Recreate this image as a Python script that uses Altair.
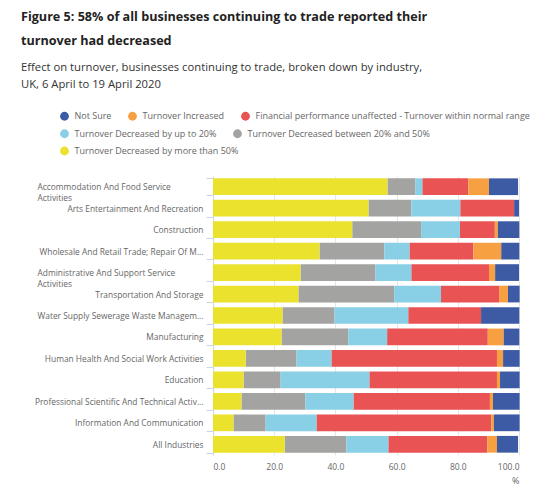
import altair as alt
import pandas as pd

industries = [
    "Accommodation And Food Service|Activities",
    "Arts Entertainment And Recreation",
    "Construction",
    "Wholesale And Retail Trade; Repair Of M...",
    "Administrative And Support Service|Activities",
    "Transportation And Storage",
    "Water Supply Sewerage Waste Managem...",
    "Manufacturing",
    "Human Health And Social Work Activities",
    "Education",
    "Professional Scientific And Technical Activ...",
    "Information And Communication",
    "All Industries",
]

categories = [
    "Turnover Decreased by more than 50%",
    "Turnover Decreased between 20% and 50%",
    "Turnover Decreased by up to 20%",
    "Financial performance unaffected - Turnover within normal range",
    "Turnover Increased",
    "Not Sure",
]
colors = ["#ebe22e", "#a3a3a2", "#89cfe5", "#e95354", "#f7a041", "#3d5aa4"]

dec_more_50 = [57.0, 50.8, 45.5, 34.8, 28.6, 27.9, 22.7, 22.4, 10.7, 10.0, 9.3, 6.7, 23.4]
dec_20_50 = [9.1, 14.0, 22.5, 21.2, 24.5, 31.3, 17.0, 21.8, 16.6, 12.1, 20.9, 10.5, 20.2]
dec_up_20 = [2.3, 16.0, 12.7, 8.2, 11.7, 15.3, 24.1, 12.7, 11.4, 29.0, 15.7, 16.6, 13.7]
unaffected = [15.0, 17.6, 11.4, 20.9, 25.4, 19.0, 23.8, 32.9, 54.1, 41.7, 44.6, 57.1, 32.3]
increased = [6.8, 0.0, 1.0, 9.1, 2.0, 2.9, 0.0, 5.2, 2.0, 1.0, 1.0, 0.9, 3.2]
not_sure = [9.5, 1.6, 7.0, 5.9, 7.8, 3.8, 12.5, 5.1, 5.4, 6.4, 8.7, 8.4, 6.9]

series = [dec_more_50, dec_20_50, dec_up_20, unaffected, increased, not_sure]

rows = []
for ci, (cat, vals) in enumerate(zip(categories, series)):
    for ind, v in zip(industries, vals):
        rows.append({"industry": ind, "category": cat, "value": v, "order": ci})
df = pd.DataFrame(rows)

legend_rows = [
    ["Not Sure", "Turnover Increased",
     "Financial performance unaffected - Turnover within normal range"],
    ["Turnover Decreased by up to 20%", "Turnover Decreased between 20% and 50%"],
    ["Turnover Decreased by more than 50%"],
]
legend_y = [-65.5, -48, -30.5]

FONT = "Open Sans"
wrapped = "isString(datum.value) && indexof(datum.value, '|') >= 0"

y_axis = alt.Axis(
    title=None,
    labelExpr="isString(datum.label) ? split(datum.label, '|') : datum.label",
    labelFont=FONT,
    labelFontSize=8.4,
    labelColor="#666666",
    labelLimit=400,
    labelLineHeight=11,
    labelAlign={"condition": {"test": wrapped, "value": "left"}, "value": "right"},
    labelPadding={"condition": {"test": wrapped, "value": 169}, "value": 3},
    domainColor="#ccd6eb",
    tickColor="#ccd6eb",
    tickSize=7,
    tickBand="extent",
    grid=False,
)

x_axis = alt.Axis(
    title="%",
    titleAnchor="end",
    titleFont=FONT,
    titleFontSize=9,
    titleFontWeight="normal",
    titleColor="#666666",
    titlePadding=6,
    values=[0, 20, 40, 60, 80, 100],
    format=".1f",
    labelFont=FONT,
    labelFontSize=8.5,
    labelColor="#666666",
    labelPadding=7,
    domain=False,
    ticks=False,
    grid=True,
    gridColor="#e6e6e6",
)

layers = []
for i, (cats, ly) in enumerate(zip(legend_rows, legend_y)):
    cols = [colors[categories.index(c)] for c in cats]
    yk = dict(sort=industries, scale=alt.Scale(paddingInner=0.22, paddingOuter=0.11))
    xk = dict(scale=alt.Scale(domain=[0, 100], nice=False))
    if i == 0:
        yk["axis"] = y_axis
        xk["axis"] = x_axis
    layer = (
        alt.Chart(df)
        .transform_stack(
            stack="value",
            groupby=["industry"],
            sort=[alt.SortField("order", order="ascending")],
            as_=["x0", "x1"],
        )
        .transform_filter(alt.FieldOneOfPredicate(field="category", oneOf=cats))
        .mark_bar()
        .encode(
            y=alt.Y("industry:N", **yk),
            x=alt.X("x0:Q", **xk),
            x2="x1:Q",
            color=alt.Color(
                "category:N",
                scale=alt.Scale(domain=cats, range=cols),
                legend=alt.Legend(
                    title=None,
                    orient="none",
                    legendX=-154,
                    legendY=ly,
                    direction="horizontal",
                    symbolType="circle",
                    symbolSize=78,
                    labelFont=FONT,
                    labelFontSize=9,
                    labelColor="#666666",
                    labelLimit=400,
                    columnPadding=15,
                    labelOffset=4.5,
                ),
            ),
        )
    )
    layers.append(layer)

chart = (
    alt.layer(*layers)
    .resolve_scale(color="independent")
    .properties(
        width=306,
        height=279,
        autosize=alt.AutoSizeParams(type="none"),
        padding={"left": 205, "top": 168, "right": 29, "bottom": 40},
        title=alt.TitleParams(
            text=["Figure 5: 58% of all businesses continuing to trade reported their",
                  "turnover had decreased"],
            subtitle=["Effect on turnover, businesses continuing to trade, broken down by industry,",
                      "UK, 6 April to 19 April 2020"],
            anchor="start",
            frame="group",
            dx=-192,
            offset=20,
            font=FONT,
            fontSize=12.6,
            fontWeight="bold",
            color="#222222",
            lineHeight=24,
            subtitleFont=FONT,
            subtitleFontSize=11.25,
            subtitleColor="#333333",
            subtitleLineHeight=17.5,
            subtitlePadding=14,
        ),
    )
    .configure_view(stroke=None)
)

chart.save("out.html", embed_options={"renderer": "svg", "actions": False})
